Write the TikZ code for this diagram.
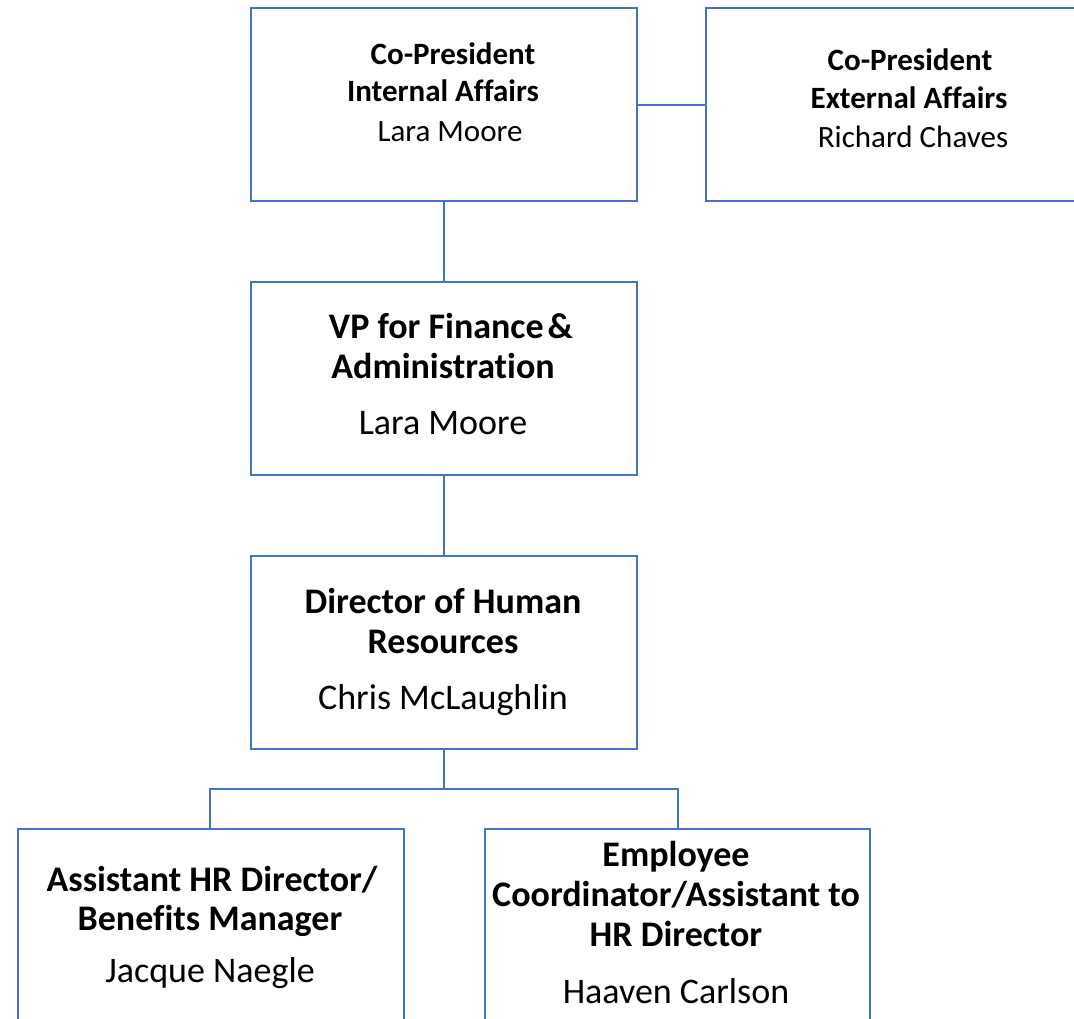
\documentclass[tikz,border=0pt]{standalone}
\usepackage{fontspec}
\setmainfont{Carlito}[Ligatures=NoCommon]
\definecolor{boxblue}{HTML}{4472C4}
\begin{document}
\begin{tikzpicture}[x=1pt,y=-1pt,
  orgbox/.style={draw=boxblue,line width=2pt,fill=white,inner sep=0pt,anchor=north west},
  conn/.style={draw=boxblue,line width=2pt},
  ttl/.style={anchor=base,inner sep=0pt,font=\fontsize{31}{38}\selectfont\bfseries},
  nm/.style={anchor=base,inner sep=0pt,font=\fontsize{31}{38}\selectfont},
  ttlb/.style={anchor=base,inner sep=0pt,font=\fontsize{36}{40}\selectfont\bfseries},
  nmb/.style={anchor=base,inner sep=0pt,font=\fontsize{36}{40}\selectfont}]
\useasboundingbox (0,0) rectangle (1074,1018);
\clip (0,0) rectangle (1074,1018);
% boxes
\node[orgbox,minimum width=386pt,minimum height=193pt] (A) at (250,7) {};
\node[orgbox,minimum width=400pt,minimum height=193pt] (B) at (705,7) {};
\node[orgbox,minimum width=386pt,minimum height=193pt] (C) at (250,281) {};
\node[orgbox,minimum width=386pt,minimum height=193pt] (D) at (250,555) {};
\node[orgbox,minimum width=386pt,minimum height=220pt] (E) at (17,828) {};
\node[orgbox,minimum width=385pt,minimum height=220pt] (F) at (484,828) {};
% connectors
\draw[conn] (A.east) -- (B.west |- A.east);
\draw[conn] (A.south) -- (C.north);
\draw[conn] (C.south) -- (D.north);
\coordinate (split) at (D.south |- 0,789);
\draw[conn] (D.south) -- (split);
\draw[conn] (split) -| (E.north -| 210,0);
\draw[conn] (split) -| (F.north);
% texts
\node[ttl] (a1) at (453,64) {Co-President};
\node[ttl] (a2) at (443,101) {Internal Affairs};
\node[nm]  (a3) at (450,141) {Lara Moore};
\node[ttl] (b1) at (910,70) {Co-President};
\node[ttl] (b2) at (909,108) {External Affairs};
\node[nm]  (b3) at (913,147) {Richard Chaves};
\node[ttlb] (c1) at (451,338) {VP for Finance\kern4pt\&};
\node[ttlb] (c2) at (443,378) {Administration};
\node[nmb]  (c3) at (443,434) {Lara Moore};
\node[ttlb] (d1) at (443,613) {Director of Human};
\node[ttlb] (d2) at (443,653) {Resources};
\node[nmb]  (d3) at (443,709) {Chris McLaughlin};
\node[ttlb] (e1) at (212,891) {Assistant HR Director/};
\node[ttlb] (e2) at (210,930) {Benefits Manager};
\node[nmb]  (e3) at (210,982) {Jacque Naegle};
\node[ttlb] (f1) at (676,866) {Employee};
\node[ttlb] (f2) at (676,906) {Coordinator/Assistant to};
\node[ttlb] (f3) at (676,946) {HR Director};
\node[nmb]  (f4) at (676,1003) {Haaven Carlson};
\end{tikzpicture}
\end{document}
